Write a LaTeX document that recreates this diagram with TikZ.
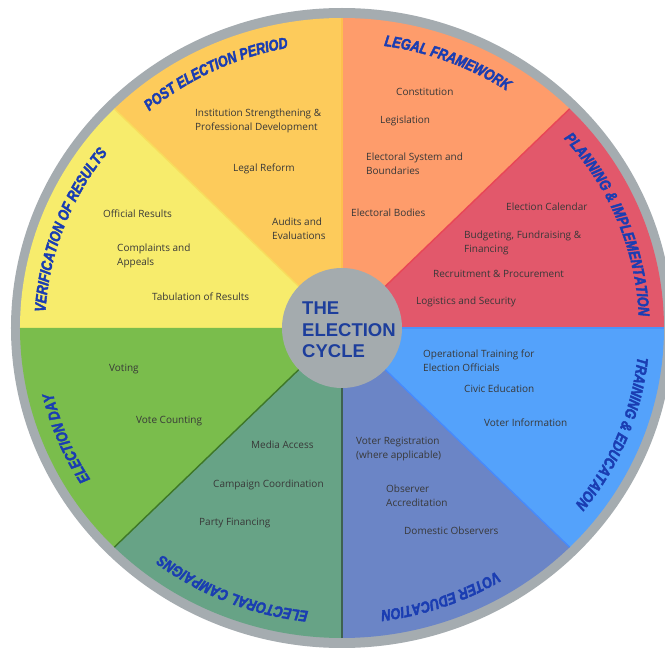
\documentclass[tikz,border=0pt]{standalone}
\usepackage{fontspec}
\setmainfont{Open Sans}
\newfontfamily\titlefont[FakeStretch=0.82, BoldItalicFeatures={FakeBold=2.5}]{Liberation Sans}
\newfontfamily\centerfont{Liberation Sans}
\usetikzlibrary{decorations.text}
\definecolor{ringgray}{HTML}{A5ACB0}
\definecolor{hubgray}{HTML}{A4ABAE}
\definecolor{cPost}{HTML}{FDCB5B}
\definecolor{cLegal}{HTML}{FE9C6B}
\definecolor{cPlan}{HTML}{E2586B}
\definecolor{cTrain}{HTML}{54A2FB}
\definecolor{cVoter}{HTML}{6B85C6}
\definecolor{cCamp}{HTML}{67A386}
\definecolor{cDay}{HTML}{7ABD4C}
\definecolor{cVerif}{HTML}{F7EC6C}
\definecolor{titleblue}{HTML}{1A3DB2}
\definecolor{hubblue}{HTML}{1D3E9C}
\definecolor{itemgray}{HTML}{383838}
\newcommand\drawsector[3]{\fill[#3] (0,0) -- (#1:322pt and 310pt) arc[start angle=#1, end angle=#2, x radius=322pt, y radius=310pt] -- cycle;}
\newcommand\drawdivider[2]{\draw[divider, #2] (0,0) -- (#1:322pt and 310pt);}
\newcommand\titlestyle{\titlefont\bfseries\itshape\fontsize{15.5}{15.5}\selectfont\color{titleblue}}
\newcommand\arctitle[3]{\path[decorate, decoration={text along path, text align=center, text={|\titlestyle|#3}}] (#1:297pt and 285pt) arc[start angle=#1, end angle=#2, x radius=297pt, y radius=285pt];}
\begin{document}
\begin{tikzpicture}[x=1pt,y=1pt,
  itemtext/.style={anchor=base west, inner sep=0pt, align=left, text=itemgray, font=\fontsize{10}{14}\selectfont},
  divider/.style={line width=1.4pt},
  hubtext/.style={anchor=base west, inner sep=0pt, align=left, text=hubblue, font=\centerfont\bfseries\fontsize{18.5}{21.5}\selectfont}]
\clip (-342,-320) rectangle (323,328);
\fill[white] (-342,-320) rectangle (323,328);
% outer ring
\fill[ringgray] (0,0) ellipse [x radius=331pt, y radius=320pt];
% sectors
\drawsector{0}{45}{cPlan}
\drawsector{45}{90}{cLegal}
\drawsector{90}{135}{cPost}
\drawsector{135}{180}{cVerif}
\drawsector{180}{225}{cDay}
\drawsector{225}{270}{cCamp}
\drawsector{270}{315}{cVoter}
\drawsector{315}{360}{cTrain}
% dividers
\drawdivider{90}{color=cPost!85!orange}
\drawdivider{45}{color=cPlan!80!red}
\drawdivider{0}{color=cTrain!90!blue}
\drawdivider{-45}{color=cTrain!85!blue}
\drawdivider{-90}{color=cCamp!60!black}
\drawdivider{-135}{color=cDay!85!green!60!black}
\drawdivider{135}{color=cVerif!85!orange}
% hub
\fill[hubgray] (0,0) circle [radius=60pt];
\node[hubtext] (hub) at (-40,-30) {THE\\ELECTION\\CYCLE};
% titles
\arctitle{137.5}{93.5}{POST ELECTION PERIOD}
\arctitle{91}{47}{LEGAL FRAMEWORK}
\arctitle{44}{0}{PLANNING {\&} IMPLEMENTATION}
\arctitle{0}{-44}{TRAINING {\&} EDUCATAION}
\arctitle{-48.5}{-92.5}{VOTER EDUCATION}
\arctitle{270}{226}{ELECTORAL CAMPAIGNS}
\arctitle{224.5}{180.5}{ELECTION DAY}
\arctitle{181.5}{137.5}{VERIFICATION OF RESULTS}
% post election period
\node[itemtext] (inst) at (-147,197.5) {Institution Strengthening \&\\Professional Development};
\node[itemtext] (legalreform) at (-109,156.5) {Legal Reform};
\node[itemtext] (audits) at (-70,88.5) {Audits and\\Evaluations};
% legal framework
\node[itemtext] (constitution) at (54,232.5) {Constitution};
\node[itemtext] (legislation) at (38,204.5) {Legislation};
\node[itemtext] (elecsys) at (24,153.5) {Electoral System and\\Boundaries};
\node[itemtext] (bodies) at (9,111.5) {Electoral Bodies};
% planning
\node[itemtext] (calendar) at (164,117.5) {Election Calendar};
\node[itemtext] (budget) at (122,75.5) {Budgeting, Fundraising \&\\Financing};
\node[itemtext] (recruit) at (91,50.5) {Recruitment \& Procurement};
\node[itemtext] (logistics) at (74,23.5) {Logistics and Security};
% training
\node[itemtext] (optrain) at (81,-43.5) {Operational Training for\\Election Officials};
\node[itemtext] (civic) at (122,-64.5) {Civic Education};
\node[itemtext] (voterinfo) at (142,-98.5) {Voter Information};
% voter education
\node[itemtext] (votereg) at (14,-130.5) {Voter Registration\\(where applicable)};
\node[itemtext] (observer) at (44,-178.5) {Observer\\Accreditation};
\node[itemtext] (domestic) at (62,-206.5) {Domestic Observers};
% verification
\node[itemtext] (official) at (-239,110.5) {Official Results};
\node[itemtext] (complaints) at (-225,62.5) {Complaints and\\Appeals};
\node[itemtext] (tabulation) at (-190,27.5) {Tabulation of Results};
% election day
\node[itemtext] (voting) at (-233,-43.5) {Voting};
\node[itemtext] (counting) at (-206,-95.5) {Vote Counting};
% campaigns
\node[itemtext] (media) at (-91,-120.5) {Media Access};
\node[itemtext] (coord) at (-129,-159.5) {Campaign Coordination};
\node[itemtext] (party) at (-143,-197.5) {Party Financing};
\end{tikzpicture}
\end{document}
